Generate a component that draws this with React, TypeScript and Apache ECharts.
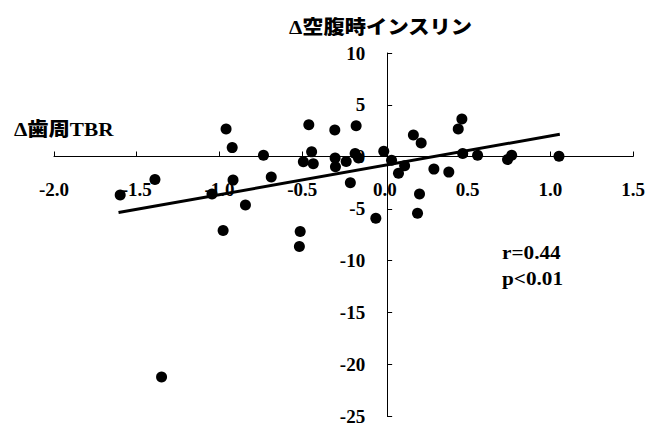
import React, { useEffect, useRef } from "react";
import * as echarts from "echarts";

const xValues = [
  -1.6, -1.39, -1.35, -1.045, -0.96, -0.923, -0.918, -0.978, -0.843, -0.734,
  -0.687, -0.512, -0.517, -0.493, -0.46, -0.443, -0.433, -0.303, -0.301, -0.299,
  -0.234, -0.209, -0.174, -0.18, -0.16, -0.055, -0.007, 0.04, 0.082, 0.119,
  0.172, 0.219, 0.209, 0.197, 0.296, 0.386, 0.443, 0.465, 0.47, 0.56,
  0.741, 0.766, 1.052,
];
const yValues = [
  -3.67, -2.17, -21.2, -3.58, 2.68, 0.89, -2.24, -7.09, -4.63, 0.16,
  -1.95, -7.19, -8.63, -0.48, 3.1, 0.48, -0.67, 2.59, -0.1, -0.96,
  -0.45, -2.49, 3.0, 0.32, -0.1, -5.91, 0.54, -0.32, -1.57, -0.86,
  2.11, 1.34, -3.58, -5.43, -1.18, -1.47, 2.68, 3.64, 0.32, 0.16,
  -0.26, 0.16, 0.06,
];
const regSlope = 2.83;
const regIntercept = -0.81;
const regXRange = [-1.61, 1.057];
const xTicks = { min: -2, max: 1.5, interval: 0.5 };
const yTicks = { min: -25, max: 10, interval: 5 };
const titleText = "Δ空腹時インスリン";
const xTitleText = "Δ歯周TBR";
const statTexts = ["r=0.44", "p<0.01"];

const serif = "'Liberation Serif', 'Times New Roman', 'Noto Sans CJK JP', serif";
const jp = "'Liberation Serif', 'Noto Sans CJK JP', sans-serif";

const W = 648;
const H = 426;
const G = { left: 54, right: 11, top: 53, bottom: 9 };

export default function App() {
  const ref = useRef<HTMLDivElement>(null);
  useEffect(() => {
    if (!ref.current) return;
    const chart = echarts.init(ref.current, undefined, { renderer: "svg" });
    const points = xValues.map((x, i) => [x, yValues[i]]);
    const reg = regXRange.map((x) => [x, regSlope * x + regIntercept]);
    const gw = W - G.left - G.right;
    const gh = H - G.top - G.bottom;
    // distance from grid edges to the zero lines
    const zeroFromLeft = (gw * (0 - xTicks.min)) / (xTicks.max - xTicks.min);
    const zeroFromBottom = (gh * (0 - yTicks.min)) / (yTicks.max - yTicks.min);
    chart.setOption({
      animation: false,
      backgroundColor: "#ffffff",
      grid: { ...G, containLabel: false },
      xAxis: {
        type: "value",
        min: xTicks.min,
        max: xTicks.max,
        interval: xTicks.interval,
        offset: -zeroFromBottom,
        axisLine: { onZero: false, lineStyle: { color: "#000", width: 1 } },
        axisTick: { inside: true, length: 5, lineStyle: { color: "#000" } },
        splitLine: { show: false },
        axisLabel: {
          margin: 23,
          color: "#000",
          fontFamily: serif,
          fontWeight: "bold",
          fontSize: 19,
          formatter: (v: number) => v.toFixed(1),
        },
      },
      yAxis: {
        type: "value",
        min: yTicks.min,
        max: yTicks.max,
        interval: yTicks.interval,
        offset: -zeroFromLeft,
        axisLine: { onZero: false, lineStyle: { color: "#000", width: 1 } },
        axisTick: { inside: true, length: 5, lineStyle: { color: "#000" } },
        splitLine: { show: false },
        axisLabel: {
          margin: 22,
          color: "#000",
          fontFamily: serif,
          fontWeight: "bold",
          fontSize: 19,
          formatter: (v: number) => String(v),
        },
      },
      series: [
        {
          type: "line",
          data: reg,
          symbol: "none",
          lineStyle: { color: "#000", width: 3 },
          z: 2,
        },
        {
          type: "scatter",
          data: points,
          symbol: "circle",
          symbolSize: 11,
          itemStyle: { color: "#000", opacity: 1 },
          z: 3,
        },
      ],
      graphic: [
        {
          type: "text",
          x: 289,
          y: 27,
          scaleX: 1.12,
          style: {
            text: titleText,
            fill: "#000",
            font: `900 19px ${jp}`,
            textAlign: "left",
            textVerticalAlign: "middle",
          },
        },
        {
          type: "text",
          x: 14,
          y: 129,
          scaleX: 1.12,
          style: {
            text: xTitleText,
            fill: "#000",
            font: `900 19px ${jp}`,
            textAlign: "left",
            textVerticalAlign: "middle",
          },
        },
        {
          type: "text",
          x: 502,
          y: 253,
          scaleX: 1.18,
          style: {
            text: statTexts[0],
            fill: "#000",
            font: `bold 18px ${serif}`,
            textAlign: "left",
            textVerticalAlign: "middle",
          },
        },
        {
          type: "text",
          x: 502,
          y: 279,
          scaleX: 1.18,
          style: {
            text: statTexts[1],
            fill: "#000",
            font: `bold 18px ${serif}`,
            textAlign: "left",
            textVerticalAlign: "middle",
          },
        },
      ],
    });
    return () => chart.dispose();
  }, []);
  return (
    <div
      ref={ref}
      style={{ position: "fixed", left: 0, top: 0, width: W, height: H }}
    />
  );
}
